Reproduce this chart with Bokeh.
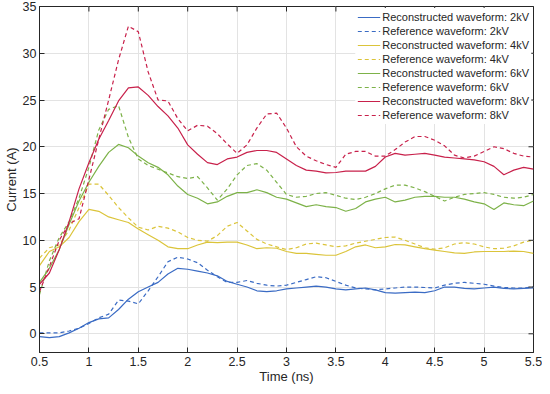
import math
from bokeh.plotting import figure
from bokeh.models import Range1d, FixedTicker, Legend, LegendItem
from bokeh.embed import file_html
from bokeh.resources import INLINE

# ---- data ----
time_ns = [0.5, 0.6, 0.7, 0.8, 0.9, 1.0, 1.1, 1.2, 1.3, 1.4,
           1.5, 1.6, 1.7, 1.8, 1.9, 2.0, 2.1, 2.2, 2.3, 2.4,
           2.5, 2.6, 2.7, 2.8, 2.9, 3.0, 3.1, 3.2, 3.3, 3.4,
           3.5, 3.6, 3.7, 3.8, 3.9, 4.0, 4.1, 4.2, 4.3, 4.4,
           4.5, 4.6, 4.7, 4.8, 4.9, 5.0, 5.1, 5.2, 5.3, 5.4, 5.5]

rec_2kv = [-0.3, -0.4, -0.3, 0.1, 0.6, 1.2, 1.6, 1.7, 2.6, 3.7,
           4.5, 5.0, 5.5, 6.4, 7.0, 6.9, 6.7, 6.5, 6.2, 5.6,
           5.3, 5.0, 4.6, 4.5, 4.6, 4.8, 4.9, 5.0, 5.1, 5.0,
           4.8, 4.7, 4.8, 4.9, 4.7, 4.4, 4.35, 4.4, 4.45, 4.4,
           4.6, 5.0, 5.0, 4.85, 4.8, 4.9, 5.0, 4.85, 4.8, 4.85, 4.9]
ref_2kv = [0.1, 0.1, 0.1, 0.3, 0.6, 1.1, 1.7, 2.1, 3.6, 3.5,
           3.2, 4.6, 6.1, 7.7, 8.2, 8.0, 7.6, 6.8, 6.1, 5.5,
           5.5, 5.7, 5.4, 5.2, 5.1, 5.2, 5.5, 5.8, 6.1, 6.0,
           5.6, 5.2, 4.9, 4.8, 4.7, 4.8, 4.9, 5.0, 5.0, 4.95,
           4.9, 5.2, 5.4, 5.5, 5.4, 5.3, 5.1, 4.95, 4.9, 4.9, 5.0]
rec_4kv = [7.3, 8.8, 9.3, 10.3, 12.0, 13.3, 13.1, 12.5, 12.2, 11.9,
           11.2, 10.6, 10.0, 9.3, 9.1, 9.1, 9.5, 9.8, 9.75, 9.8,
           9.8, 9.5, 9.1, 9.2, 9.15, 8.8, 8.6, 8.6, 8.5, 8.4,
           8.4, 8.8, 9.3, 9.5, 9.2, 9.3, 9.55, 9.5, 9.3, 9.1,
           8.95, 8.8, 8.65, 8.6, 8.75, 8.8, 8.8, 8.8, 8.85, 8.8, 8.6]
ref_4kv = [8.1, 9.2, 9.5, 11.1, 13.5, 16.0, 16.0, 14.8, 13.5, 12.4,
           11.4, 11.1, 11.5, 11.3, 10.9, 10.3, 10.0, 9.9, 10.5, 11.5,
           11.9, 11.0, 10.1, 9.6, 9.3, 9.0, 9.2, 9.6, 9.7, 9.5,
           9.3, 9.4, 9.7, 9.9, 10.1, 10.3, 10.35, 10.0, 9.6, 9.2,
           9.05, 9.2, 9.6, 9.75, 9.6, 9.3, 9.1, 9.15, 9.4, 9.8, 10.0]
rec_6kv = [5.5, 7.0, 9.0, 11.7, 14.2, 16.2, 17.9, 19.4, 20.25, 19.9,
           19.0, 18.3, 17.8, 17.0, 15.8, 14.9, 14.5, 13.9, 14.1, 14.7,
           15.1, 15.1, 15.4, 15.1, 14.6, 14.4, 14.0, 13.6, 13.8, 13.6,
           13.5, 13.1, 13.4, 14.1, 14.4, 14.6, 14.1, 14.3, 14.6, 14.7,
           14.7, 14.6, 14.6, 14.4, 14.1, 13.9, 13.3, 14.0, 13.8, 13.7, 14.2]
ref_6kv = [4.2, 7.8, 10.3, 12.0, 14.5, 17.8, 21.8, 24.0, 24.4, 21.0,
           18.7, 18.0, 17.6, 17.2, 16.8, 16.6, 16.8, 15.6, 14.3, 15.5,
           17.0, 18.0, 18.2, 17.5, 16.2, 14.9, 14.6, 14.7, 15.0, 15.1,
           14.8, 14.5, 14.35, 14.6, 15.0, 15.5, 15.9, 15.9, 15.6, 15.2,
           14.7, 14.2, 14.6, 14.9, 15.0, 15.1, 14.9, 14.6, 14.5, 14.6, 14.9]
rec_8kv = [5.3, 6.5, 9.0, 12.0, 15.5, 18.3, 20.8, 22.8, 24.9, 26.3,
           26.4, 25.5, 24.3, 23.3, 22.0, 20.2, 19.2, 18.3, 18.1, 18.7,
           18.9, 19.4, 19.6, 19.6, 19.4, 18.7, 18.0, 17.5, 17.4, 17.2,
           17.25, 17.4, 17.4, 17.4, 17.9, 18.9, 19.3, 19.1, 19.2, 19.3,
           19.1, 18.9, 18.8, 18.7, 18.6, 18.4, 17.9, 17.0, 17.5, 17.8, 17.6]
ref_8kv = [4.5, 7.2, 10.0, 11.8, 12.3, 16.5, 20.8, 25.0, 29.3, 32.9,
           32.3, 28.0, 25.0, 24.9, 23.0, 21.7, 22.3, 22.2, 21.4, 20.3,
           19.3, 20.2, 22.0, 23.5, 23.6, 22.0, 20.0, 19.0, 18.5, 18.1,
           17.8, 19.2, 19.5, 19.5, 19.0, 19.0, 19.7, 20.5, 21.1, 21.1,
           20.7, 20.1, 19.1, 18.8, 19.0, 19.5, 20.0, 19.8, 19.3, 19.0, 18.9]

x_ticks = [0.5, 1, 1.5, 2, 2.5, 3, 3.5, 4, 4.5, 5, 5.5]
y_ticks = [0, 5, 10, 15, 20, 25, 30, 35]
x_min, x_max = 0.5, 5.5
y_min, y_max = -2, 35

series = [
    ("Reconstructed waveform: 2kV", rec_2kv, "#3A6BC4", "solid"),
    ("Reference waveform: 2kV", ref_2kv, "#3A6BC4", "4 3"),
    ("Reconstructed waveform: 4kV", rec_4kv, "#DBC43A", "solid"),
    ("Reference waveform: 4kV", ref_4kv, "#DBC43A", "4 3"),
    ("Reconstructed waveform: 6kV", rec_6kv, "#7DB249", "solid"),
    ("Reference waveform: 6kV", ref_6kv, "#7DB249", "4 3"),
    ("Reconstructed waveform: 8kV", rec_8kv, "#C8214B", "solid"),
    ("Reference waveform: 8kV", ref_8kv, "#C8214B", "4 3"),
]

FONT = "Liberation Sans"
TXT = "#262626"

p = figure(width=542, height=386,
           x_range=Range1d(x_min, x_max), y_range=Range1d(y_min, y_max),
           output_backend="svg", toolbar_location=None,
           min_border_left=28, min_border_right=9,
           min_border_top=6, min_border_bottom=31)
p.outline_line_color = TXT
p.outline_line_width = 1

p.xgrid.ticker = FixedTicker(ticks=x_ticks)
p.ygrid.ticker = FixedTicker(ticks=y_ticks)
p.grid.grid_line_color = "#E3E3E3"
p.grid.grid_line_width = 1

items = []
for label, vals, col, dash in series:
    r = p.line(time_ns, vals, line_color=col, line_width=1.2, line_dash=dash)
    items.append(LegendItem(label=label, renderers=[r]))

# mirrored inward ticks on the top and right edges of the box
p.scatter(x_ticks, [y_max] * len(x_ticks), marker="dash", size=10,
          angle=math.pi / 2, line_color=TXT, line_width=1)
p.scatter([x_max] * len(y_ticks), y_ticks, marker="dash", size=10,
          line_color=TXT, line_width=1)

for ax in (p.xaxis[0], p.yaxis[0]):
    ax.major_label_text_font = FONT
    ax.major_label_text_font_size = "12.5px"
    ax.major_label_text_color = TXT
    ax.axis_label_text_font = FONT
    ax.axis_label_text_font_size = "13px"
    ax.axis_label_text_font_style = "normal"
    ax.axis_label_text_color = TXT
    ax.axis_line_color = TXT
    ax.major_tick_line_color = TXT
    ax.major_tick_in = 5
    ax.major_tick_out = 0
    ax.minor_tick_line_color = None

p.xaxis[0].ticker = FixedTicker(ticks=x_ticks)
p.yaxis[0].ticker = FixedTicker(ticks=y_ticks)
p.xaxis[0].major_label_overrides = {t: f"{t:g}" for t in x_ticks}
p.xaxis[0].axis_label = "Time (ns)"
p.yaxis[0].axis_label = "Current (A)"
p.xaxis[0].major_label_standoff = 4
p.xaxis[0].axis_label_standoff = 0
p.yaxis[0].major_label_standoff = 3
p.yaxis[0].axis_label_standoff = 1

legend = Legend(items=items, location="top_right",
                background_fill_color="white", background_fill_alpha=1.0,
                border_line_alpha=0,
                label_text_font=FONT, label_text_font_size="11px",
                label_text_color=TXT,
                glyph_width=23, glyph_height=14, label_height=14,
                label_standoff=2, spacing=0, padding=2, margin=2)
p.add_layout(legend)

open("out.html", "w").write(file_html(p, INLINE))
